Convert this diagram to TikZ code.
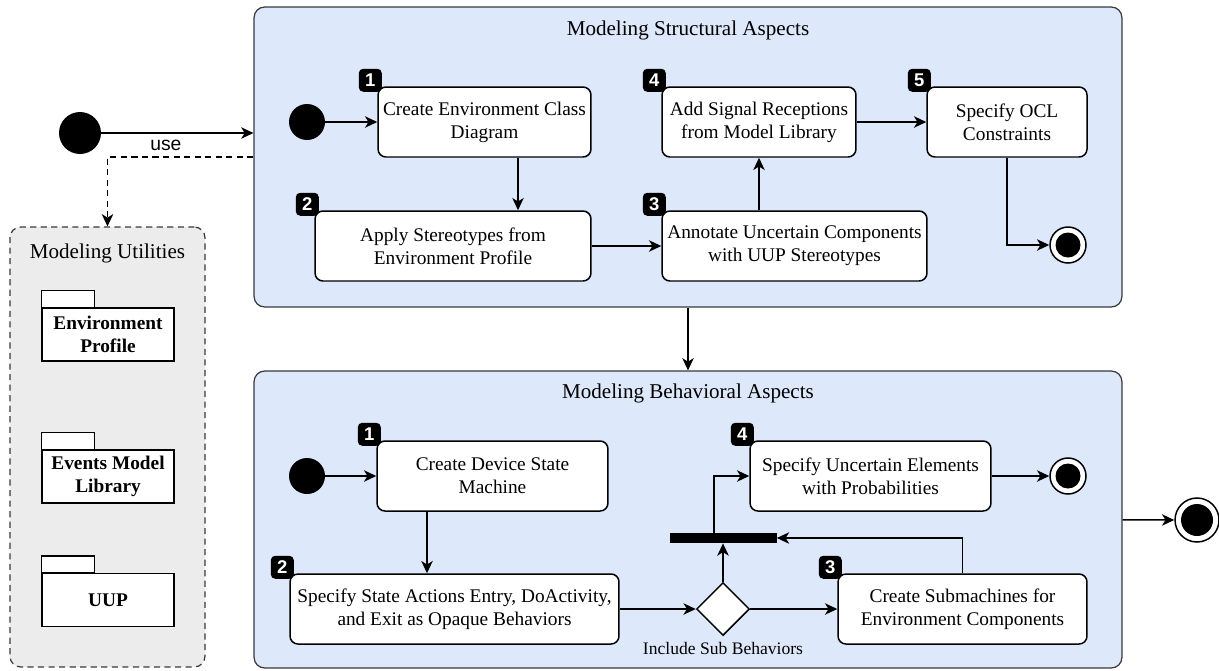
\documentclass[tikz,border=0pt]{standalone}
\usepackage{fontspec}
\setmainfont{Liberation Serif}
\newfontfamily\labelsf{Liberation Sans}
\usetikzlibrary{arrows.meta,shapes.geometric}
\definecolor{lanefill}{RGB}{221,232,250}
\definecolor{lanedraw}{RGB}{54,57,61}
\definecolor{utilfill}{RGB}{236,236,236}

\begin{document}
\begin{tikzpicture}[x=0.02cm, y=-0.02cm,
	flow/.style={draw, line width=0.85pt, -{Stealth[length=7pt,width=6.5pt,inset=2pt]}},
	lane/.style={draw=lanedraw, fill=lanefill, line width=0.7pt, rounded corners=6pt, inner sep=0pt, minimum width=17.36cm},
	lanetitle/.style={font=\fontsize{12}{14}\selectfont},
	act/.style={draw, fill=white, line width=0.85pt, rounded corners=4.5pt, align=center, inner sep=0pt, minimum height=1.4cm, font=\fontsize{11}{13.1}\selectfont},
	badge/.style={fill=black, rounded corners=2.5pt, text=white, inner sep=0pt, minimum size=0.46cm, font=\labelsf\bfseries\fontsize{10.5}{10.5}\selectfont},
	start/.style={circle, fill=black, inner sep=0pt, minimum size=0.72cm},
	stop/.style={circle, draw, fill=white, line width=0.85pt, inner sep=0pt, minimum size=0.72cm,
		path picture={\fill[black] (path picture bounding box.center) circle (0.25cm);}},
	pkg/.style={draw, fill=white, line width=0.85pt, align=center, inner sep=0pt, minimum width=2.64cm, minimum height=1.06cm, font=\bfseries\fontsize{11}{13}\selectfont},
	dashline/.style={dash pattern=on 3.5pt off 2.5pt}]
	\useasboundingbox (0,0) rectangle (1219,670);

	% containers
	\node[lane, minimum height=6cm] (top) at (688,157) {};
	\node[lane, minimum height=5.94cm] (bot) at (688,519.5) {};
	\node[lanetitle] (toptitle) at (688,30) {Modeling Structural Aspects};
	\node[lanetitle] (bottitle) at (688,393) {Modeling Behavioral Aspects};

	% utilities
	\node[draw=lanedraw, fill=utilfill, dashline, line width=0.7pt, rounded corners=6pt, minimum width=3.9cm, minimum height=8.8cm, inner sep=0pt] (util) at (107.5,447) {};
	\node[lanetitle] (utiltitle) at (107.5,253) {Modeling Utilities};
	\node[pkg] (envprof) at (108,334.5) {Environment\\Profile};
	\node[pkg] (evlib) at (108,476.5) {Events Model\\Library};
	\node[pkg] (uup) at (108,600) {UUP};
	\draw[line width=0.85pt, fill=white] (envprof.north west) rectangle ++(53,-17);
	\draw[line width=0.85pt, fill=white] (evlib.north west) rectangle ++(53,-17);
	\draw[line width=0.85pt, fill=white] (uup.north west) rectangle ++(53,-17);

	\node[start, minimum size=0.84cm] (init0) at (80,133) {};
	\node[stop, minimum size=0.88cm, path picture={\fill[black] (path picture bounding box.center) circle (0.32cm);}] (fin0) at (1197,520) {};

	% structural aspects
	\node[start] (init1) at (307,122) {};
	\node[act, minimum width=4.26cm] (envcd) at (484.5,122) {Create Environment Class\\Diagram};
	\node[act, minimum width=5.52cm] (stereo) at (453,246) {Apply Stereotypes from\\Environment Profile};
	\node[act, minimum width=5.3cm] (annot) at (794.5,246) {Annotate Uncertain Components\\with UUP Stereotypes};
	\node[act, minimum width=3.88cm] (signal) at (759,122) {Add Signal Receptions\\from Model Library};
	\node[act, minimum width=3.2cm] (ocl) at (1007,122) {Specify OCL\\Constraints};
	\node[stop] (fin1) at (1068,245) {};

	\node[badge] (s1) at ([shift={(-7,-6)}]envcd.north west) {1};
	\node[badge] (s2) at ([shift={(-7,-6)}]stereo.north west) {2};
	\node[badge] (s3) at ([shift={(-7,-6)}]annot.north west) {3};
	\node[badge] (s4) at ([shift={(-7,-6)}]signal.north west) {4};
	\node[badge] (s5) at ([shift={(-7,-6)}]ocl.north west) {5};

	% behavioral aspects
	\node[start] (init2) at (307,476) {};
	\node[act, minimum width=4.62cm] (devsm) at (492.5,476) {Create Device State\\Machine};
	\node[act, minimum width=6.58cm] (actions) at (454.5,609) {Specify State Actions Entry, DoActivity,\\and Exit as Opaque Behaviors};
	\node[diamond, draw, fill=white, line width=0.85pt, inner sep=0pt, minimum width=1.06cm, minimum height=1.06cm] (dec) at (723,609) {};
	\node[font=\fontsize{10}{12}\selectfont] (declabel) at (723,648) {Include Sub Behaviors};
	\node[fill=black, inner sep=0pt, minimum width=2.14cm, minimum height=0.2cm] (bar) at (723,538) {};
	\node[act, minimum width=4.82cm] (uncert) at (870.5,476) {Specify Uncertain Elements\\with Probabilities};
	\node[act, minimum width=4.98cm] (submach) at (962.5,609) {Create Submachines for\\Environment Components};
	\node[stop] (fin2) at (1068,476) {};

	\node[badge] (t1) at ([shift={(-7,-6)}]devsm.north west) {1};
	\node[badge] (t2) at ([shift={(-7,-6)}]actions.north west) {2};
	\node[badge] (t3) at ([shift={(-7,-6)}]submach.north west) {3};
	\node[badge] (t4) at ([shift={(-7,-6)}]uncert.north west) {4};

	% connectors
	\draw[flow] (init0) -- (init0 -| top.west);
	\draw[flow, dashline] (top.west) -| node[pos=0.3, above, font=\labelsf\fontsize{11}{13}\selectfont] {use} (util.north);
	\draw[flow] (top) -- (bot);
	\draw[flow] (bot) -- (fin0);

	\draw[flow] (init1) -- (envcd);
	\draw[flow] ([shift={(33.5,0)}]envcd.south) -- ([shift={(33.5,0)}]envcd.south |- stereo.north);
	\draw[flow] (stereo) -- (annot);
	\draw[flow] (signal.south |- annot.north) -- (signal.south);
	\draw[flow] (signal) -- (ocl);
	\draw[flow] (ocl.south) |- (fin1);

	\draw[flow] (init2) -- (devsm);
	\draw[flow] ([shift={(-65.5,0)}]devsm.south) -- ([shift={(-65.5,0)}]devsm.south |- actions.north);
	\draw[flow] (actions) -- (dec);
	\draw[flow] (dec) -- (submach);
	\draw[flow] (dec) -- (bar);
	\draw[flow] ([shift={(-9,0)}]bar.north) |- (uncert.west);
	\draw[flow] (submach.north) |- (bar.east);
	\draw[flow] (uncert) -- (fin2);
\end{tikzpicture}
\end{document}
